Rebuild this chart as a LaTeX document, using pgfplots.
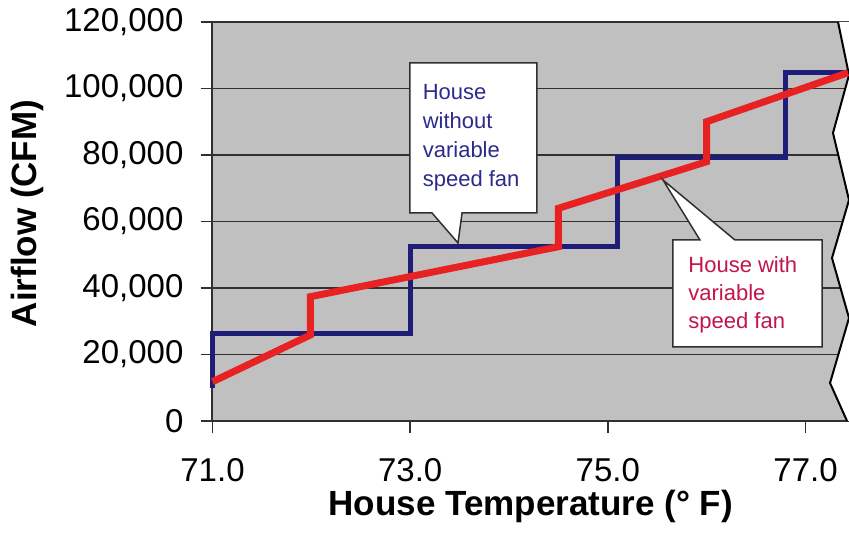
\documentclass[border=0pt]{standalone}
\usepackage{fontspec}
\setmainfont{Liberation Sans}
\usepackage{pgfplots}
\pgfplotsset{compat=1.18}
\definecolor{bggray}{HTML}{C0C0C0}
\definecolor{gridc}{HTML}{303030}
\definecolor{navy}{HTML}{1E1E78}
\definecolor{fanred}{HTML}{E82222}
\definecolor{txtblue}{HTML}{2B2B8C}
\definecolor{txtred}{HTML}{C4154A}

\begin{document}
\begin{tikzpicture}
\begin{axis}[
    at={(0,0)}, anchor=south west,
    scale only axis,
    width=318.25pt, height=199.5pt,
    xmin=71, xmax=77.44, ymin=0, ymax=120000,
    clip=false,
    axis background/.style={fill=bggray},
    axis line style={draw=none},
    tick align=outside, tick pos=left,
    major tick length=6pt,
    tick style={line width=0.75pt, color=gridc},
    xtick={71,73,75,77},
    xticklabels={71.0,73.0,75.0,77.0},
    ytick={0,20000,40000,60000,80000,100000,120000},
    yticklabels={0,{20,000},{40,000},{60,000},{80,000},{100,000},{120,000}},
    ticklabel style={font=\fontsize{16.5}{19}\selectfont},
    xticklabel style={yshift=-9pt},
    yticklabel style={xshift=-5pt},
    scaled y ticks=false,
    ymajorgrids,
    grid style={line width=0.9pt, color=gridc},
    xlabel={House Temperature (° F)},
    ylabel={Airflow (CFM)},
    xlabel style={font=\bfseries\fontsize{17.5}{20}\selectfont,
        at={([yshift=-47pt]rel axis cs:0.5,0)}, anchor=base},
    ylabel style={font=\bfseries\fontsize{17.5}{20}\selectfont,
        at={([xshift=-87.75pt]rel axis cs:0,0.52)}, anchor=base, rotate=0},
]
% white cut-out right of the break line
\fill[white] (axis cs:77.329,120000) -- (axis cs:77.44,104060) -- (axis cs:77.278,86616)
    -- (axis cs:77.44,66466) -- (axis cs:77.268,49022) -- (axis cs:77.44,30977)
    -- (axis cs:77.248,11428) -- (axis cs:77.42,0) -- (axis cs:77.6,0) -- (axis cs:77.6,120000) -- cycle;
% frame
\draw[gridc, line width=1pt] (axis cs:77.329,120000) -- (axis cs:71,120000) -- (axis cs:71,0) -- (axis cs:77.42,0);
\draw[black, line width=1pt] (axis cs:77.329,120000) -- (axis cs:77.44,104060) -- (axis cs:77.278,86616)
    -- (axis cs:77.44,66466) -- (axis cs:77.268,49022) -- (axis cs:77.44,30977)
    -- (axis cs:77.248,11428) -- (axis cs:77.42,0);

% house without variable speed fan
\addplot[navy, line width=2.5pt, no marks] coordinates {
    (71.0,10000) (71.0,26370) (73.0,26370) (73.0,52420) (75.1,52420)
    (75.1,79100) (76.8,79100) (76.8,104750) (77.43,104750)
};
% house with variable speed fan
\addplot[fanred, line width=3.5pt, no marks] coordinates {
    (71.0,11820) (71.99,25865) (71.99,37383) (74.5,52420) (74.5,63970)
    (76.0,77985) (76.0,90014) (77.43,104750)
};

% callouts
\draw[fill=white, draw=gridc, line width=0.75pt]
    (axis cs:72.998,107669) -- (axis cs:74.283,107669) -- (axis cs:74.283,62556)
    -- (axis cs:73.525,62556) -- (axis cs:73.484,53534) -- (axis cs:73.221,62556)
    -- (axis cs:72.998,62556) -- cycle;
\node[anchor=north west, inner sep=0pt, align=left, text=txtblue,
    font=\fontsize{11}{14.5}\selectfont] at (axis cs:73.124,101262)
    {House\\without\\variable\\speed fan};
\draw[fill=white, draw=gridc, line width=0.75pt]
    (axis cs:75.659,54436) -- (axis cs:75.932,54436) -- (axis cs:75.558,72481)
    -- (axis cs:76.286,54436) -- (axis cs:77.167,54436) -- (axis cs:77.167,22256)
    -- (axis cs:75.659,22256) -- cycle;
\node[anchor=north west, inner sep=0pt, align=left, text=txtred,
    font=\fontsize{11}{14}\selectfont] at (axis cs:75.811,49624)
    {House with\\variable\\speed fan};
\end{axis}
\pgfresetboundingbox
\path (-106.25pt,-61.5pt) rectangle (318.25pt,210.5pt);
\end{tikzpicture}
\end{document}
